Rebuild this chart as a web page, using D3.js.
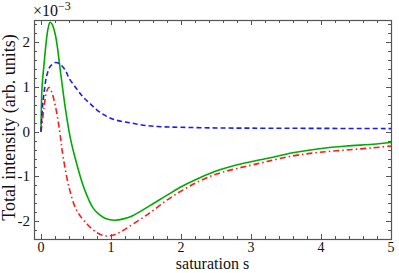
<!DOCTYPE html>
<html>
<head>
<meta charset="utf-8">
<script src="https://cdn.jsdelivr.net/npm/d3@7"></script>
<style>
body { margin: 0; background: #fff; }
svg text { font-family: "Liberation Serif", "DejaVu Serif", serif; fill: #111; }
</style>
</head>
<body>
<svg width="399" height="273"></svg>
<script>
let width = 399, height = 273
let margin = {left: 34, right: 8, top: 20, bottom: 34}

// values in units of 1e-3
let redS = [0, 0.043, 0.08, 0.114, 0.15, 0.21, 0.28, 0.30, 0.40, 0.51, 0.66, 0.80, 0.92, 1.04, 1.15, 1.31, 1.55, 1.79, 2.03, 2.27, 2.5, 2.75, 3.0, 3.22, 3.6, 3.98, 4.36, 4.74, 5.0]
let redV = [0, 0.54, 0.9, 0.99, 0.9, 0.54, -0.14, -0.4, -1.24, -1.76, -2.07, -2.26, -2.33, -2.31, -2.23, -2.07, -1.82, -1.54, -1.30, -1.1, -0.95, -0.84, -0.75, -0.67, -0.54, -0.46, -0.41, -0.36, -0.32]

let greenS = [0, 0.015, 0.043, 0.067, 0.1, 0.13, 0.16, 0.21, 0.28, 0.35, 0.42, 0.47, 0.61, 0.75, 0.84, 0.92, 1.05, 1.18, 1.31, 1.55, 1.79, 2.03, 2.27, 2.5, 2.75, 3.0, 3.22, 3.6, 3.98, 4.36, 4.74, 5.0]
let greenV = [0, 1.0, 1.5, 1.9, 2.3, 2.45, 2.4, 2.13, 1.32, 0.5, -0.15, -0.48, -1.24, -1.72, -1.86, -1.94, -1.98, -1.95, -1.88, -1.66, -1.43, -1.21, -1.03, -0.88, -0.76, -0.67, -0.6, -0.47, -0.38, -0.32, -0.28, -0.24]

let blueS = [0, 0.02, 0.03, 0.067, 0.09, 0.13, 0.21, 0.28, 0.35, 0.4, 0.5, 0.6, 0.7, 0.84, 1.03, 1.27, 1.5, 1.75, 2.0, 2.5, 3.0, 4.0, 5.0]
let blueV = [0, 0.54, 0.69, 1.15, 1.3, 1.46, 1.55, 1.5, 1.37, 1.2, 0.98, 0.78, 0.63, 0.44, 0.28, 0.2, 0.14, 0.11, 0.1, 0.085, 0.08, 0.075, 0.07]

let xTicks = [0, 1, 2, 3, 4, 5]
let yTicks = [-2, -1, 0, 1, 2]

let x = d3.scaleLinear().domain([-0.1, 5]).range([margin.left, width - margin.right])
let y = d3.scaleLinear().domain([-2.4, 2.5]).range([height - margin.bottom, margin.top])

let svg = d3.select('svg')
let frameColor = '#555'

// minor/major ticks, inward on all four sides
let xMinor = d3.range(0, 5.001, 0.2)
let yMinor = d3.range(-2.4, 2.501, 0.2)
function drawTicks() {
    let g = svg.append('g').attr('stroke', frameColor).attr('stroke-width', 1)
    xMinor.forEach(function (t) {
        let major = Math.abs(t - Math.round(t)) < 1e-6
        let len = major ? 5 : 3
        let px = Math.round(x(t)) + 0.5
        g.append('line').attr('x1', px).attr('x2', px).attr('y1', y.range()[0]).attr('y2', y.range()[0] - len)
        g.append('line').attr('x1', px).attr('x2', px).attr('y1', y.range()[1]).attr('y2', y.range()[1] + len)
    })
    yMinor.forEach(function (t) {
        let major = Math.abs(t - Math.round(t)) < 1e-6
        let len = major ? 5 : 3
        let py = Math.round(y(t)) + 0.5
        g.append('line').attr('y1', py).attr('y2', py).attr('x1', x.range()[0]).attr('x2', x.range()[0] + len)
        g.append('line').attr('y1', py).attr('y2', py).attr('x1', x.range()[1]).attr('x2', x.range()[1] - len)
    })
}
drawTicks()

svg.append('rect')
    .attr('x', margin.left + 0.5).attr('y', margin.top + 0.5)
    .attr('width', x.range()[1] - x.range()[0]).attr('height', y.range()[0] - y.range()[1])
    .attr('fill', 'none').attr('stroke', frameColor).attr('stroke-width', 1.2)

svg.append('g').selectAll('text').data(xTicks).join('text')
    .attr('x', function (d) {return x(d);})
    .attr('y', height - margin.bottom + 13)
    .attr('text-anchor', 'middle')
    .style('font-size', '14px')
    .text(function (d) {return d;})

svg.append('g').selectAll('text').data(yTicks).join('text')
    .attr('x', margin.left - 4)
    .attr('y', function (d) {return y(d) + 5;})
    .attr('text-anchor', 'end')
    .style('font-size', '15px')
    .text(function (d) {return d < 0 ? '-' + Math.abs(d) : d;})

svg.append('text')
    .attr('x', (x.range()[0] + x.range()[1]) / 2)
    .attr('y', height - 4)
    .attr('text-anchor', 'middle')
    .style('font-size', '16px')
    .text('saturation s')

svg.append('text')
    .attr('transform', 'translate(15,' + ((y.range()[0] + y.range()[1]) / 2 - 2) + ') rotate(-90)')
    .attr('text-anchor', 'middle')
    .style('font-size', '18px')
    .text('Total intensity (arb. units)')

let exp = svg.append('text').attr('x', margin.left - 1).attr('y', 16).style('font-size', '16px')
exp.append('tspan').text('×10')
exp.append('tspan').attr('dy', -6).style('font-size', '12px').text('−3')

let line = d3.line()
    .x(function (d) {return x(d[0]);})
    .y(function (d) {return y(d[1]);})
    .curve(d3.curveCatmullRom.alpha(0.5))

let series = [
    {s: greenS, v: greenV, color: '#00aa00', dash: null},
    {s: redS, v: redV, color: '#ff1a1a', dash: '6,3,1.5,3'},
    {s: blueS, v: blueV, color: '#1a1aff', dash: '5,3'},
]

svg.append('g').selectAll('path').data(series).join('path')
    .attr('d', function (d) {return line(d3.zip(d.s, d.v));})
    .attr('fill', 'none')
    .attr('stroke', function (d) {return d.color;})
    .attr('stroke-width', 1.6)
    .attr('stroke-dasharray', function (d) {return d.dash;})
</script>
</body>
</html>
